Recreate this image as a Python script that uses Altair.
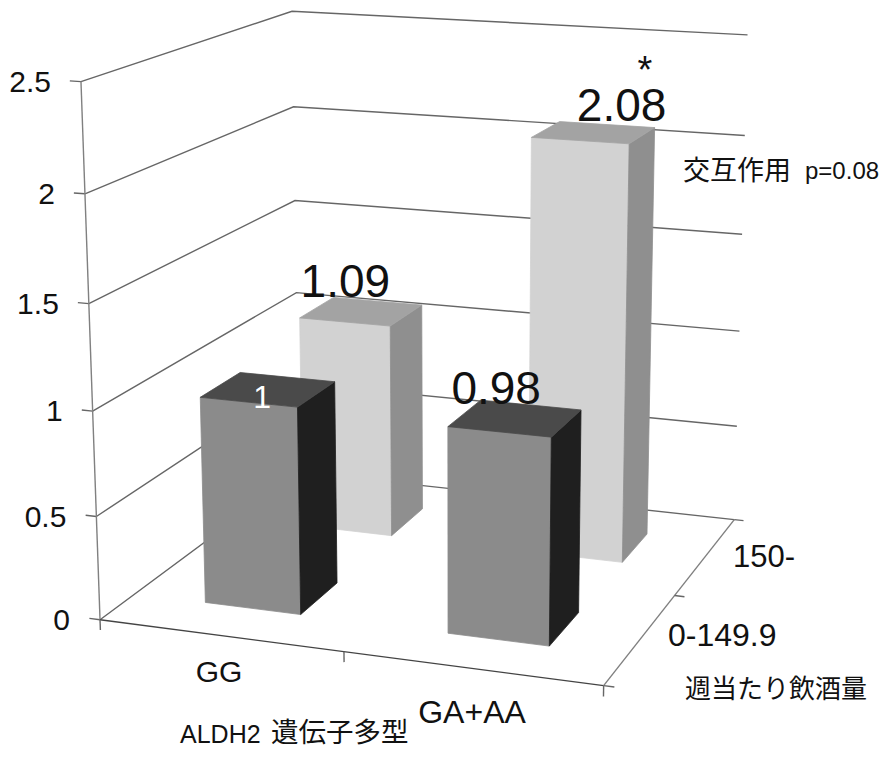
import numpy as np
import pandas as pd
import altair as alt

# ---- chart values -------------------------------------------------------
categories = ["GG", "GA+AA"]
depths = ["0-149.9", "150-"]
values_low = [1, 0.98]     # 0-149.9
values_high = [1.09, 2.08] # 150-
value_ticks = [0, 0.5, 1, 1.5, 2, 2.5]
value_tick_labels = ["0", "0.5", "1", "1.5", "2", "2.5"]

# ---- 3-D view of the chart box: (u, v, z) -> page pixel -------------------
view_points = [
    (0, 0, 2.5, 81, 82), (0, 0, 2, 85, 193), (0, 0, 1.5, 89, 303), (0, 0, 1, 93, 411),
    (0, 0, .5, 97, 516), (0, 0, 0, 101, 618),
    (0, 2, 2.5, 292, 11), (0, 2, 2, 293, 107), (0, 2, 1.5, 295, 200), (0, 2, 1, 296, 293),
    (0, 2, 0, 299, 473),
    (2, 2, 2.5, 748, 35), (2, 2, 2, 744, 136), (2, 2, 1.5, 743, 234), (2, 2, 1, 739, 332),
    (2, 2, .5, 737, 427), (2, 2, 0, 734, 518),
    (2, 0, 0, 602, 685), (1, 0, 0, 342, 657), (2, 1, 0, 677, 593),
]
A, b = [], []
for u, v, z, px, py in view_points:
    A.append([u, v, z, 1, 0, 0, 0, 0, -px*u, -px*v, -px*z]); b.append(px)
    A.append([0, 0, 0, 0, u, v, z, 1, -py*u, -py*v, -py*z]); b.append(py)
sol = np.linalg.lstsq(np.array(A, float), np.array(b, float), rcond=None)[0]
P = np.append(sol, 1.0).reshape(3, 4)

def proj(u, v, z):
    q = P @ np.array([u, v, z, 1.0])
    return float(q[0] / q[2]), float(q[1] / q[2])

# ---- geometry built from the values ---------------------------------------
HALF_U, HALF_V = 0.20, 0.19

def add_line(rows, name, pts, color="#666666"):
    for i, p in enumerate(pts):
        x, y = proj(*p)
        rows.append(dict(x=x, y=y, name=name, i=i, c=color))

grid = []
for z in value_ticks:
    add_line(grid, f"grid{z}", [(0, 0, z), (0, 2, z), (2, 2, z)])
    add_line(grid, f"tick{z}", [(0, 0, z), (-0.045, 0, z)])
add_line(grid, "vaxis", [(0, 0, 0), (0, 0, 2.5)], "#808080")
add_line(grid, "xaxis", [(0, 0, 0), (2, 0, 0)], "#444444")
add_line(grid, "daxis", [(2, 0, 0), (2, 2, 0)], "#808080")
for k in range(3):
    add_line(grid, f"xt{k}", [(k, 0, 0), (k, 0, -0.05)])
    add_line(grid, f"dt{k}", [(2, k, 0), (2.04, k, 0)])

faces = []
def add_bar(iu, iv, val, front, side, top):
    u0, u1 = iu + .5 - HALF_U, iu + .5 + HALF_U
    v0, v1 = iv + .5 - HALF_V, iv + .5 + HALF_V
    tag = f"{iu}{iv}"
    quads = {
        "front": ([(u0, v0, 0), (u1, v0, 0), (u1, v0, val), (u0, v0, val), (u0, v0, 0)], front),
        "side": ([(u1, v0, 0), (u1, v1, 0), (u1, v1, val), (u1, v0, val), (u1, v0, 0)], side),
        "top": ([(u0, v0, val), (u1, v0, val), (u1, v1, val), (u0, v1, val), (u0, v0, val)], top),
    }
    for nm, (pts, col) in quads.items():
        add_line(faces, f"{tag}{nm}", pts, col)

LIGHT = ("#d2d2d2", "#8f8f8f", "#a3a3a3")
DARK = ("#8b8b8b", "#1f1f1f", "#4a4a4a")
for iu in range(2):
    add_bar(iu, 1, values_high[iu], *LIGHT)
for iu in range(2):
    add_bar(iu, 0, values_low[iu], *DARK)

SANS, CJK = "Liberation Sans", "Noto Sans CJK JP"
texts = []
def label(x, y, t, size, color="#111111", align="center", font=SANS):
    texts.append(dict(x=x, y=y, t=t, size=size, color=color, align=align, font=font))

for z, t in zip(value_ticks, value_tick_labels):
    px, py = proj(0, 0, z)
    label(px - 30, py + 1, t, 30, align="right")

# value labels sit over the bar tops
offsets = {(0, 0): (-6, 9), (1, 0): (-19, -28), (0, 1): (-16, -28), (1, 1): (28, -25)}
for iv, vals in enumerate([values_low, values_high]):
    for iu, val in enumerate(vals):
        px, py = proj(iu + .5, iv + .5, val)
        dx, dy = offsets[(iu, iv)]
        is_white = (iu, iv) == (0, 0)
        label(px + dx, py + dy, f"{val:g}", 32 if is_white else 46, "#ffffff" if is_white else "#111111")

label(219, 673, categories[0], 30)
label(472, 713, categories[1], 32)
label(668, 636, depths[0], 32, align="left")
label(733, 558, depths[1], 31, align="left")
label(645, 72, "*", 38)
label(683, 172, "交互作用", 27, align="left", font=CJK)
label(805, 172, "p=0.08", 24, align="left")
label(685, 690, "週当たり飲酒量", 26, align="left", font=CJK)
label(180, 735, "ALDH2", 25, align="left")
label(271, 734, "遺伝子多型", 27.5, align="left", font=CJK)

# ---- chart ----------------------------------------------------------------
W, H = 873, 741
xs = alt.Scale(domain=[8, 8 + W], range=[0, W], nice=False, zero=False)
ys = alt.Scale(domain=[8, 8 + H], range=[0, H], nice=False, zero=False)
X = alt.X("x:Q", scale=xs, axis=None)
Y = alt.Y("y:Q", scale=ys, axis=None)

grid_layer = alt.Chart(pd.DataFrame(grid)).mark_line(strokeWidth=1.4).encode(
    x=X, y=Y, detail="name:N", order="i:Q",
    color=alt.Color("c:N", scale=None))

face_layers = []
fdf = pd.DataFrame(faces)
for nm in fdf["name"].unique():
    sub = fdf[fdf["name"] == nm]
    col = sub["c"].iloc[0]
    face_layers.append(
        alt.Chart(sub).mark_line(fill=col, stroke=col, strokeWidth=0.8).encode(x=X, y=Y, order="i:Q"))

text_layers = []
tdf = pd.DataFrame(texts)
for (al, fo), sub in tdf.groupby(["align", "font"], sort=False):
    text_layers.append(
        alt.Chart(sub).mark_text(align=al, baseline="middle", font=fo).encode(
            x=X, y=Y, text="t:N",
            size=alt.Size("size:Q", scale=None, legend=None),
            color=alt.Color("color:N", scale=None)))

chart = alt.layer(grid_layer, *face_layers, *text_layers).properties(
    width=W, height=H, padding=0, autosize=alt.AutoSizeParams(type="none"),
).configure_view(stroke=None)

chart.save("out.html", embed_options={"renderer": "svg", "actions": False})
